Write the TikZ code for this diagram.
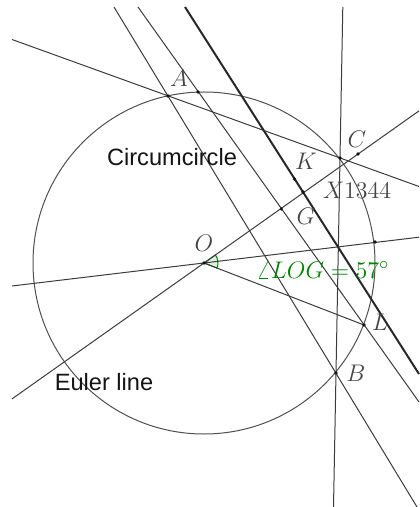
\documentclass[tikz,border=0pt]{standalone}
\usepackage{fontspec}
\newfontfamily\labelsans{Liberation Sans}
\begin{document}
\begin{tikzpicture}[x=0.5pt,y=-0.5pt,
  thinline/.style={draw={rgb,255:red,60;green,60;blue,60},line width=0.5pt},
  thickline/.style={draw={rgb,255:red,40;green,40;blue,40},line width=1pt},
  circline/.style={draw={rgb,255:red,80;green,80;blue,80},line width=0.5pt},
  ptdot/.style={circle,fill={rgb,255:red,20;green,20;blue,20},inner sep=0pt,minimum size=1.8pt},
  ptlabel/.style={text={rgb,255:red,70;green,70;blue,70},inner sep=0pt,font=\fontsize{12.5}{14}\selectfont},
  sanslabel/.style={text={rgb,255:red,20;green,20;blue,20},inner sep=0pt,font=\labelsans\fontsize{11.8}{14}\selectfont},
  anglecol/.style={draw={rgb,255:red,0;green,130;blue,0},fill={rgb,255:red,0;green,130;blue,0},fill opacity=0.12,line width=0.5pt}
]
\useasboundingbox (0,0) rectangle (419,507);
% points
\coordinate (O) at (204,263);
\coordinate (A) at (168,96);
\coordinate (B) at (336,373);
\coordinate (C) at (340,158);
\coordinate (L) at (364,325);
\coordinate (G) at (281.3,209);
\coordinate (K) at (294.5,179);
\coordinate (X) at (303,192);
\coordinate (P1) at (198,92);
\coordinate (P2) at (375,242);
\coordinate (P3) at (358,154);
% line end points
\coordinate (ac1) at (12,39.5);
\coordinate (ac2) at (419,186.5);
\coordinate (bc1) at (342.8,7);
\coordinate (bc2) at (333.5,507);
\coordinate (ab1) at (114,7);
\coordinate (ab2) at (417,507);
\coordinate (m1) at (138,7);
\coordinate (m2) at (419,402);
\coordinate (t1) at (185,7);
\coordinate (t2) at (419,374);
\coordinate (h1) at (12,286);
\coordinate (h2) at (419,237.2);
\coordinate (e1) at (12,398.9);
\coordinate (e2) at (419,110.9);
% angle mark
\filldraw[anglecol] (O) -- ++(-35.3:14) arc[start angle=-35.3,end angle=21.2,radius=14] -- cycle;
% circumcircle
\draw[circline] (O) circle (171);
% lines
\draw[thinline] (ac1) -- (ac2);
\draw[thinline] (bc1) -- (bc2);
\draw[thinline] (ab1) -- (ab2);
\draw[thinline] (m1) -- (m2);
\draw[thinline] (h1) -- (h2);
\draw[thinline] (e1) -- (e2);
\draw[thinline] (O) -- (L);
\draw[thickline] (t1) -- (t2);
% dots
\foreach \p in {O,A,B,C,L,G,K,X,P1,P2,P3} \node[ptdot] (d\p) at (\p) {};
% labels
\node[ptlabel] (lA) at (179,78) {$A$};
\node[ptlabel] (lC) at (357,139) {$C$};
\node[ptlabel] (lK) at (306,161) {$K$};
\node[ptlabel] (lX) at (357,190) {$X1344$};
\node[ptlabel] (lG) at (306,216) {$G$};
\node[ptlabel] (lO) at (204,243) {$O$};
\node[ptlabel] (lL) at (380,322) {$L$};
\node[ptlabel] (lB) at (356,373) {$B$};
\node[ptlabel,text={rgb,255:red,0;green,130;blue,0}] (lang) at (323,270) {$\angle LOG = 57^\circ$};
\node[sanslabel] (lcirc) at (172,157) {Circumcircle};
\node[sanslabel] (leuler) at (104,382) {Euler line};
\end{tikzpicture}
\end{document}
